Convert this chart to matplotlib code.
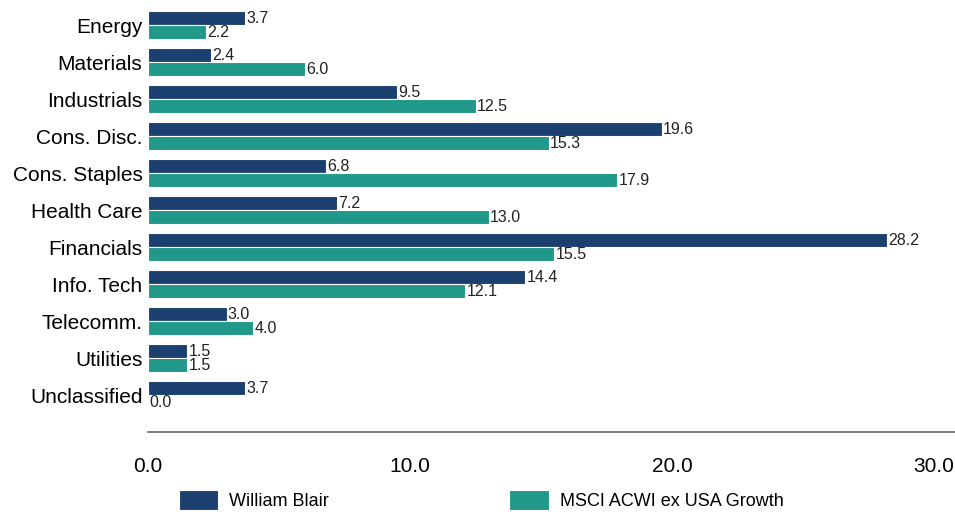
import matplotlib.pyplot as plt
import numpy as np

plt.rcParams['font.family'] = ['Liberation Sans Narrow', 'Liberation Sans', 'DejaVu Sans']

sectors = ['Energy', 'Materials', 'Industrials', 'Cons. Disc.', 'Cons. Staples',
           'Health Care', 'Financials', 'Info. Tech', 'Telecomm.', 'Utilities', 'Unclassified']
william_blair = [3.7, 2.4, 9.5, 19.6, 6.8, 7.2, 28.2, 14.4, 3.0, 1.5, 3.7]
msci_acwi = [2.2, 6.0, 12.5, 15.3, 17.9, 13.0, 15.5, 12.1, 4.0, 1.5, 0.0]

navy = '#1b3f6e'
teal = '#20998a'

fig = plt.figure(figsize=(9.55, 5.12), dpi=100)
ax = fig.add_axes([0.155, 0.156, 0.845, 0.844])

y = np.arange(len(sectors))
h = 0.385
b1 = ax.barh(y - h / 2, william_blair, height=h, color=navy, edgecolor='white', linewidth=0.8,
             label='William Blair')
b2 = ax.barh(y + h / 2, msci_acwi, height=h, color=teal, edgecolor='white', linewidth=0.8,
             label='MSCI ACWI ex USA Growth')

for bars, vals in [(b1, william_blair), (b2, msci_acwi)]:
    for bar, v in zip(bars, vals):
        ax.text(v + 0.05, bar.get_y() + bar.get_height() / 2, f'{v:.1f}',
                va='center', ha='left', fontsize=11.5, color='#222222')

ax.set_yticks(y)
ax.set_yticklabels(sectors, fontsize=15)
ax.set_ylim(len(sectors), -0.68)
ax.set_xlim(0, 30.8)
ax.set_xticks([0, 10, 20, 30])
ax.set_xticklabels(['0.0', '10.0', '20.0', '30.0'], fontsize=15)
ax.tick_params(axis='both', length=0)
ax.tick_params(axis='x', pad=18)
ax.tick_params(axis='y', pad=4)

for s in ['top', 'right', 'left']:
    ax.spines[s].set_visible(False)
ax.spines['bottom'].set_color('#666666')
ax.spines['bottom'].set_linewidth(1.2)

fig.legend(handles=[b1, b2], loc='lower left', bbox_to_anchor=(0.17, -0.028), ncol=2,
           frameon=False, fontsize=13, handlelength=2.2, handleheight=1.25,
           columnspacing=10, handletextpad=0.6)

fig.savefig('out.png', dpi=100)
